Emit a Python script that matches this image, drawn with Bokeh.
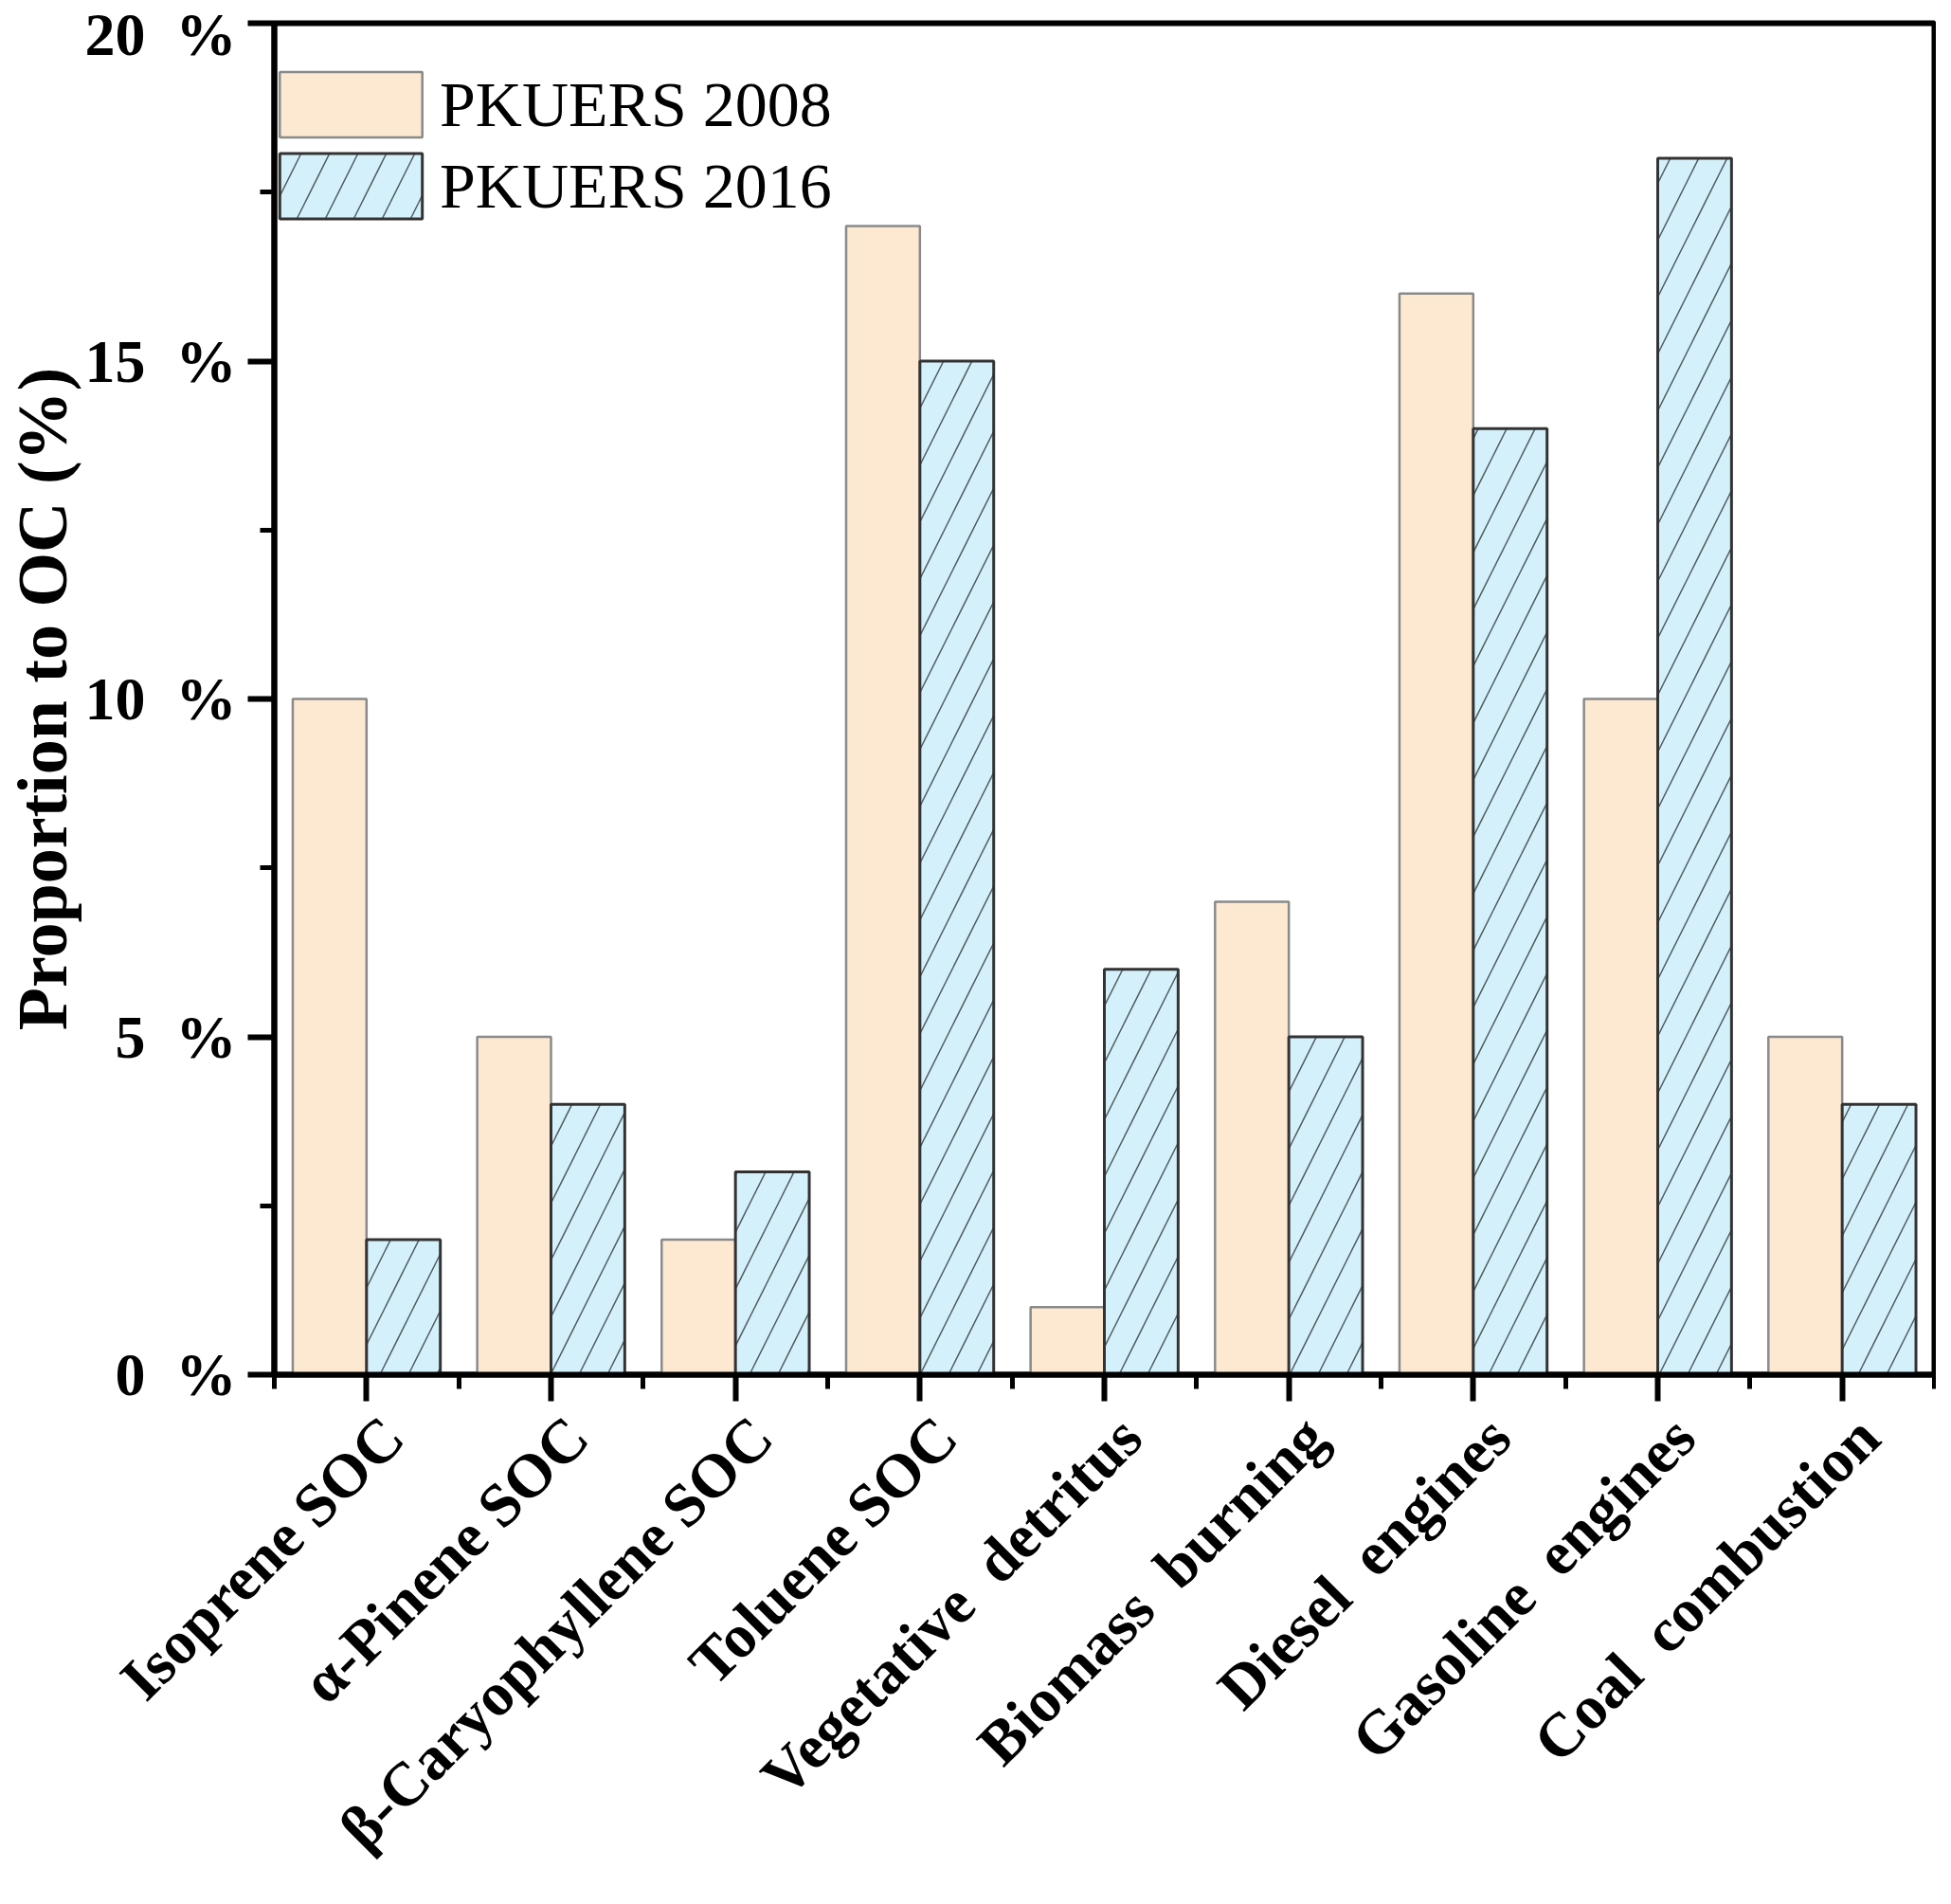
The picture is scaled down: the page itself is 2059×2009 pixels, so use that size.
import math
from bokeh.plotting import figure
from bokeh.models import (Range1d, FixedTicker, Legend, LegendItem, ColumnDataSource, LinearAxis)
from bokeh.transform import dodge
from bokeh.embed import file_html
from bokeh.resources import INLINE

categories = ["Isoprene SOC", "α-Pinene SOC", "β-Caryophyllene SOC", "Toluene SOC",
              "Vegetative\u00a0 detritus", "Biomass\u00a0 burning", "Diesel\u00a0 engines",
              "Gasoline\u00a0 engines", "Coal\u00a0 combustion"]
values_2008 = [10, 5, 2, 17, 1, 7, 16, 10, 5]
values_2016 = [2, 4, 3, 15, 6, 5, 14, 18, 4]
series_names = ["PKUERS 2008", "PKUERS 2016"]
y_ticks = [0, 5, 10, 15, 20]
y_tick_labels = ["0\u00a0 %", "5\u00a0 %", "10\u00a0 %", "15\u00a0 %", "20\u00a0 %"]
y_title = "Proportion to OC (%)"

FONT = "Liberation Serif"
LABEL_SHIFT = 0.143   # rotated category labels sit slightly right of their ticks

positions = list(range(1, len(categories) + 1))
source = ColumnDataSource(dict(x=positions, v08=values_2008, v16=values_2016))

x_lo, x_hi = 0.5, len(categories) + 0.5
p = figure(width=2043, height=1993,
           x_range=Range1d(x_lo, x_hi), y_range=Range1d(y_ticks[0], y_ticks[-1]),
           output_backend="svg", toolbar_location=None,
           min_border_left=287, min_border_right=2, min_border_top=24, min_border_bottom=543)
p.extra_x_ranges = {"labels": Range1d(x_lo - LABEL_SHIFT, x_hi - LABEL_SHIFT)}
p.grid.visible = False
p.background_fill_color = "white"
p.border_fill_color = "white"
p.outline_line_color = "black"
p.outline_line_width = 6
p.outline_line_alpha = 1

r08 = p.vbar(x=dodge("x", -0.2, range=p.x_range), top="v08", width=0.4, bottom=0, source=source,
             fill_color="#FDE8D1", line_color="#8A8A8A", line_width=2.5)
r16 = p.vbar(x=dodge("x", 0.2, range=p.x_range), top="v16", width=0.4, bottom=0, source=source,
             fill_color="#D4F1FB", line_color="#333333", line_width=3,
             hatch_pattern="/", hatch_color="#505C61", hatch_scale=60, hatch_weight=1.5)

# x axis: ticks only
xa = p.xaxis[0]
xa.ticker = FixedTicker(ticks=positions, minor_ticks=[v - 0.5 for v in positions] + [positions[-1] + 0.5])
xa.major_label_overrides = {v: "" for v in positions}
xa.major_label_text_font_size = "0px"
xa.major_label_standoff = 0

# second bottom axis: the rotated category labels
xl = LinearAxis(x_range_name="labels", ticker=FixedTicker(ticks=positions, minor_ticks=[]),
                major_label_overrides={v: c for v, c in zip(positions, categories)},
                major_label_orientation=math.pi / 4, major_label_standoff=27,
                major_label_text_font=FONT, major_label_text_font_style="bold",
                major_label_text_font_size="65px", major_label_text_color="black",
                axis_line_color=None, major_tick_line_color=None, minor_tick_line_color=None,
                major_tick_out=0, major_tick_in=0, minor_tick_out=0, minor_tick_in=0)
p.add_layout(xl, "below")

# y axis
ya = p.yaxis[0]
ya.ticker = FixedTicker(ticks=y_ticks, minor_ticks=[(a + b) / 2 for a, b in zip(y_ticks[:-1], y_ticks[1:])])
ya.major_label_overrides = {v: t for v, t in zip(y_ticks, y_tick_labels)}
ya.major_label_standoff = 12
ya.major_label_text_font_size = "64px"
ya.axis_label = y_title
ya.axis_label_standoff = 1
ya.axis_label_text_font = FONT
ya.axis_label_text_font_style = "bold"
ya.axis_label_text_font_size = "74px"
ya.axis_label_text_color = "black"

for ax in (xa, ya):
    ax.axis_line_width = 6
    ax.axis_line_color = "black"
    ax.major_tick_line_width = 6
    ax.minor_tick_line_width = 5
    ax.major_tick_out = 28
    ax.major_tick_in = 0
    ax.minor_tick_out = 15
    ax.minor_tick_in = 0
    ax.major_label_text_font = FONT
    ax.major_label_text_font_style = "bold"
    ax.major_label_text_color = "black"

legend = Legend(items=[LegendItem(label=series_names[0], renderers=[r08]),
                       LegendItem(label=series_names[1], renderers=[r16])],
                location=(-13, 1211), glyph_width=188, glyph_height=86, spacing=0,
                label_standoff=0, padding=0, margin=0, border_line_color=None,
                background_fill_alpha=0, label_text_font=FONT, label_text_font_size="68px",
                label_height=70, label_text_color="black")
p.add_layout(legend)

open("out.html", "w").write(file_html(p, INLINE))
